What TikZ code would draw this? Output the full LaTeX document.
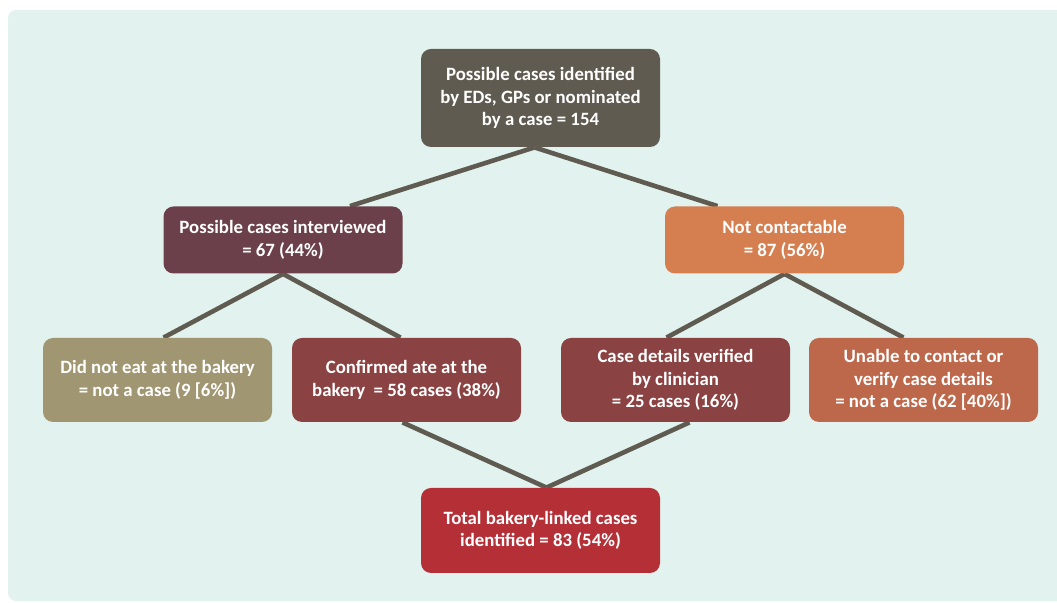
\documentclass[tikz,border=0pt]{standalone}
\usepackage{fontspec}
\setmainfont{Carlito}
\usepackage{xcolor}
\usepackage{tikz}

\definecolor{mint}{HTML}{E2F2EF}
\definecolor{slate}{HTML}{5F5B50}
\definecolor{plum}{HTML}{6B404A}
\definecolor{apricot}{HTML}{D57F50}
\definecolor{khaki}{HTML}{A09672}
\definecolor{brick}{HTML}{8B4242}
\definecolor{rust}{HTML}{BD684B}
\definecolor{crimson}{HTML}{B52F37}

\pgfdeclarelayer{bg}
\pgfdeclarelayer{links}
\pgfsetlayers{bg,links,main}

\begin{document}
\begin{tikzpicture}[x=0.5pt, y=-0.5pt,
  box/.style={rounded corners=5pt, text=white, align=center, inner sep=0pt,
    font=\fontsize{9.4}{11.25}\selectfont\bfseries},
  wide/.style={box, minimum width=119.5pt},
  narrow/.style={box, minimum width=114.5pt, minimum height=42pt},
  link/.style={slate, line width=2.3pt}]
\useasboundingbox (0, 0) rectangle (1057, 603);

\node[wide, fill=slate, minimum height=49pt] (top) at (540.5, 98)
  {Possible cases identified\\by EDs, GPs or nominated\\by a case = 154};
\node[wide, fill=plum, minimum height=33.5pt] (interviewed) at (283, 240)
  {Possible cases interviewed\\= 67 (44\%)};
\node[wide, fill=apricot, minimum height=33.5pt] (nocontact) at (784.5, 240)
  {Not contactable\\= 87 (56\%)};
\node[narrow, fill=khaki] (noteat) at (157.5, 380)
  {Did not eat at the bakery\\= not a case (9 [6\%])};
\node[narrow, fill=brick] (ate) at (406.5, 380)
  {Confirmed ate at the\\bakery\ \ = 58 cases (38\%)};
\node[narrow, fill=brick] (verified) at (675.5, 380)
  {Case details verified\\by clinician\\= 25 cases (16\%)};
\node[narrow, fill=rust] (unable) at (923.5, 380)
  {Unable to contact or\\verify case details\\= not a case (62 [40\%])};
\node[wide, fill=crimson, minimum height=42.5pt] (total) at (540.5, 530.5)
  {Total bakery-linked cases\\identified = 83 (54\%)};

\begin{pgfonlayer}{bg}
\fill[mint, rounded corners=4pt] (8, 10) rectangle (1070, 601);
\end{pgfonlayer}

\begin{pgfonlayer}{links}
\draw[link] ([xshift=-3pt]top.south) -- ([xshift=33.5pt]interviewed.north);
\draw[link] ([xshift=-3pt]top.south) -- ([xshift=-33.5pt]nocontact.north);
\draw[link] (interviewed.south) -- ([xshift=3pt]noteat.north);
\draw[link] (interviewed.south) -- ([xshift=-3pt]ate.north);
\draw[link] (nocontact.south) -- ([xshift=-4.5pt]verified.north);
\draw[link] (nocontact.south) -- ([xshift=-10pt]unable.north);
\draw[link] ([xshift=-2pt]ate.south) -- ([xshift=3pt]total.north);
\draw[link] ([xshift=7pt]verified.south) -- ([xshift=3pt]total.north);
\end{pgfonlayer}
\end{tikzpicture}
\end{document}
